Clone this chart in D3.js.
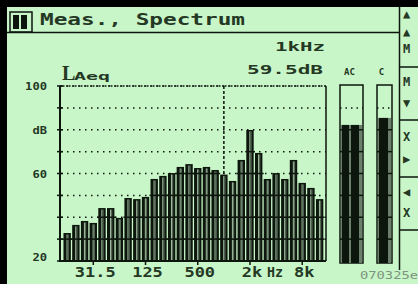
<!DOCTYPE html>
<html>
<head>
<meta charset="utf-8">
<script src="https://cdn.jsdelivr.net/npm/d3@7"></script>
<style>
  html, body { margin: 0; padding: 0; background: #c8f6c8; }
  svg { display: block; }
  text { font-family: "DejaVu Sans Mono", monospace; font-weight: bold; fill: #243824; }
</style>
</head>
<body>
<svg id="lcd" width="418" height="284"></svg>
<script>
// third-octave bands shown on the display and their levels (dB)
var bands = ["16","20","25","31.5","40","50","63","80","100","125","160","200","250","315","400",
             "500","630","800","1k","1.25k","1.6k","2k","2.5k","3.15k","4k","5k","6.3k","8k","10k","12.5k"];
var levels = [32.8,36.5,38.3,37.4,44.2,44.2,39.7,48.8,48.3,49.3,57.5,58.9,60.2,63.0,64.3,
              62.5,63.0,61.6,59.5,56.6,66.2,79.9,69.4,57.5,60.2,57.5,66.2,55.7,53.4,48.3];
var xTicks = ["31.5","125","500","2k","8k"];
var yTicks = [20,30,40,50,60,70,80,90,100];
var yLabels = [[100,"100"],[80,"dB"],[60,"60"],[20,"20"]];
var overallNames = ["AC","C"];
var overallValues = [82.2, 85.4];
var cursorBand = "1k";
var title = "Meas., Spectrum";
var sideKeys = [["▲","▲","M"],["M","▼"],["X","▶"],["◀","X"]];

var ink = "#0c160c";
var svg = d3.select("#lcd");

// frame of the screenshot
svg.append("rect").attr("x",0).attr("y",0).attr("width",418).attr("height",7).attr("fill","#000");
svg.append("rect").attr("x",0).attr("y",0).attr("width",7).attr("height",284).attr("fill","#000");

// title bar
svg.append("rect").attr("x",10).attr("y",12).attr("width",22).attr("height",20)
   .attr("fill","none").attr("stroke",ink).attr("stroke-width",1.5);
svg.selectAll(".pause").data([13,21]).enter().append("rect")
   .attr("x",function(d){return d;}).attr("y",15).attr("width",6).attr("height",14).attr("fill",ink);
svg.append("line").attr("x1",7).attr("x2",400).attr("y1",32.5).attr("y2",32.5)
   .attr("stroke",ink).attr("stroke-width",1.5);
svg.append("text").attr("x",40).attr("y",25).attr("font-size",16)
   .attr("textLength",205).attr("lengthAdjust","spacingAndGlyphs").text(title);

// side soft-key panel
var cells = [7,67,120,177,230];
svg.append("line").attr("x1",399.5).attr("x2",399.5).attr("y1",7).attr("y2",270)
   .attr("stroke",ink).attr("stroke-width",1.5);
svg.selectAll(".sep").data(cells.slice(1)).enter().append("line")
   .attr("x1",399).attr("x2",418).attr("y1",function(d){return d;}).attr("y2",function(d){return d;})
   .attr("stroke",ink).attr("stroke-width",1.5);
sideKeys.forEach(function(keys,i){
  var top = cells[i], step = (cells[i+1]-cells[i]) / (keys.length+0.5);
  keys.forEach(function(k,j){
    svg.append("text").attr("x",403).attr("y",top + step*(j+0.9) - (i==0?4:0))
       .attr("font-size",12).text(k);
  });
});

// scales
var x = d3.scaleBand().domain(bands).range([62.6,324.2]).paddingInner(0.15).paddingOuter(0.1);
var y = d3.scaleLinear().domain([20,100]).range([261,86]);
var bw = x.bandwidth();

// dotted grid
svg.selectAll(".grid").data(yTicks.slice(1)).enter().append("line")
   .attr("x1",61).attr("x2",326).attr("y1",function(d){return y(d);}).attr("y2",function(d){return y(d);})
   .attr("stroke",ink).attr("stroke-width",1.5).attr("stroke-dasharray","1.5,4.5");

// cursor at 1 kHz
var cx = x(cursorBand) + bw/2;
svg.append("line").attr("x1",cx).attr("x2",cx).attr("y1",y(100)).attr("y2",y(20))
   .attr("stroke",ink).attr("stroke-width",1.5).attr("stroke-dasharray","3,2");

// bars
var bar = svg.selectAll(".bar").data(levels).enter().append("g").attr("class","bar")
   .attr("transform",function(d,i){return "translate(" + x(bands[i]) + ",0)";});
bar.append("rect").attr("y",function(d){return y(d);}).attr("width",bw)
   .attr("height",function(d){return y(20)-y(d);}).attr("fill",ink);
bar.append("rect").attr("x",3).attr("y",function(d){return y(d)+1.5;}).attr("width",1.1)
   .attr("height",function(d){return y(20)-y(d)-1.5;}).attr("fill","#9ab79a");
bar.append("rect").attr("x",4.1).attr("y",function(d){return y(d)+1.5;}).attr("width",1.2)
   .attr("height",function(d){return y(20)-y(d)-1.5;}).attr("fill","#5a6c5a");
// solid grid segments across the bars
bar.selectAll(".seg").data(function(d){ return yTicks.filter(function(t){return t>20 && t<d-1;}); })
   .enter().append("line")
   .attr("x1",-1).attr("x2",x.step()).attr("y1",function(t){return y(t);}).attr("y2",function(t){return y(t);})
   .attr("stroke",ink).attr("stroke-width",1.5);

// axes
svg.append("line").attr("x1",60).attr("x2",60).attr("y1",y(100)).attr("y2",y(20)+1)
   .attr("stroke",ink).attr("stroke-width",2);
svg.append("line").attr("x1",60).attr("x2",326).attr("y1",y(20)).attr("y2",y(20))
   .attr("stroke",ink).attr("stroke-width",2);
svg.append("line").attr("x1",326).attr("x2",326).attr("y1",y(100)).attr("y2",y(20))
   .attr("stroke",ink).attr("stroke-width",1.5);
svg.append("line").attr("x1",60).attr("x2",326).attr("y1",y(100)).attr("y2",y(100))
   .attr("stroke",ink).attr("stroke-width",1.5).attr("stroke-dasharray","1.5,1.5");
svg.selectAll(".ytick").data(yTicks).enter().append("line")
   .attr("x1",57).attr("x2",63).attr("y1",function(d){return y(d);}).attr("y2",function(d){return y(d);})
   .attr("stroke",ink).attr("stroke-width",1.5);
svg.selectAll(".xtick").data(xTicks).enter().append("line")
   .attr("x1",function(d){return x(d)+bw/2;}).attr("x2",function(d){return x(d)+bw/2;})
   .attr("y1",y(20)).attr("y2",y(20)+4).attr("stroke",ink).attr("stroke-width",1.5);

// axis labels
svg.selectAll(".ylab").data(yLabels).enter().append("text")
   .attr("x",47).attr("y",function(d){return Math.min(y(d[0])+4, 261);})
   .attr("text-anchor","end").attr("font-size",10)
   .attr("textLength",function(d){return d[1].length*7.3;}).attr("lengthAdjust","spacingAndGlyphs")
   .text(function(d){return d[1];});
svg.selectAll(".xlab").data(xTicks).enter().append("text")
   .attr("x",function(d){return x(d)+bw/2 - d.length*10.2/2 + 2;}).attr("y",277)
   .attr("font-size",14)
   .attr("textLength",function(d){return d.length*10.2;}).attr("lengthAdjust","spacingAndGlyphs")
   .text(function(d){return d;});
svg.append("text").attr("x",267).attr("y",277).attr("font-size",14)
   .attr("textLength",16).attr("lengthAdjust","spacingAndGlyphs").text("Hz");

// readout
svg.append("text").attr("x",62).attr("y",80).attr("font-size",20)
   .style("font-family","'Liberation Serif', serif").text("L");
svg.append("text").attr("x",74).attr("y",80).attr("font-size",11)
   .attr("textLength",36).attr("lengthAdjust","spacingAndGlyphs").text("Aeq");
svg.append("text").attr("x",325).attr("y",51).attr("text-anchor","end").attr("font-size",12)
   .attr("textLength",50).attr("lengthAdjust","spacingAndGlyphs").text("1kHz");
svg.append("text").attr("x",323).attr("y",74).attr("text-anchor","end").attr("font-size",13)
   .attr("textLength",76).attr("lengthAdjust","spacingAndGlyphs")
   .text(d3.format(".1f")(levels[bands.indexOf(cursorBand)]) + "dB");

// overall AC / C bar graphs
var boxes = [{x:340, w:23, cols:[[2,7],[11,8]]}, {x:377, w:15, cols:[[2,9]]}];
overallNames.forEach(function(name,i){
  var b = boxes[i], v = overallValues[i];
  var g = svg.append("g").attr("transform","translate(" + b.x + ",0)");
  g.append("rect").attr("x",0).attr("y",85).attr("width",b.w).attr("height",263-85)
   .attr("fill","none").attr("stroke",ink).attr("stroke-width",1.5);
  g.append("rect").attr("x",1).attr("y",y(v)).attr("width",b.w-2).attr("height",263-y(v)).attr("fill","#6c7e6c");
  g.selectAll(".col").data(b.cols).enter().append("rect")
   .attr("x",function(c){return c[0];}).attr("y",y(v)).attr("width",function(c){return c[1];})
   .attr("height",263-y(v)).attr("fill",ink);
  g.selectAll(".seg").data(yTicks.filter(function(t){return t>20 && t<100;})).enter().append("line")
   .attr("x1",0).attr("x2",b.w).attr("y1",function(t){return y(t);}).attr("y2",function(t){return y(t);})
   .attr("stroke",ink).attr("stroke-width",1.5)
   .attr("stroke-dasharray",function(t){return t<v ? null : "1.5,4";});
  g.append("text").attr("x",b.w/2 + (i==0?-2:-3)).attr("y",75).attr("text-anchor","middle")
   .attr("font-size",9).text(name);
});

svg.append("text").attr("x",360).attr("y",279).attr("font-size",10).style("font-weight","normal")
   .style("fill","#7e937e").attr("textLength",58).attr("lengthAdjust","spacingAndGlyphs").text("070325e");
</script>
</body>
</html>
